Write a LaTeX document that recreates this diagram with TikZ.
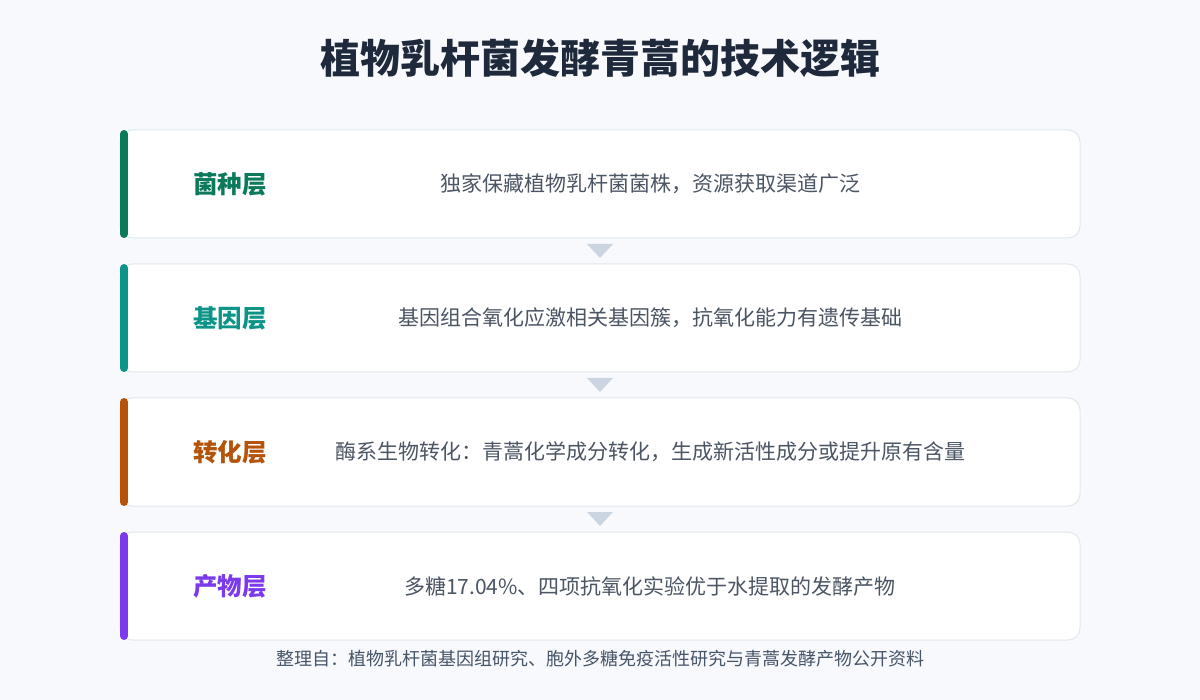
\documentclass[tikz,border=0pt]{standalone}
\usepackage{fontspec}
\setmainfont{Noto Sans CJK SC}
\usetikzlibrary{positioning}
\definecolor{bg}{HTML}{F7F9FC}
\definecolor{cardline}{HTML}{E2E8F0}
\definecolor{arrowc}{HTML}{CBD5E1}
\definecolor{titlec}{HTML}{1E293B}
\definecolor{descc}{HTML}{4B5563}
\definecolor{footc}{HTML}{475569}
\definecolor{cA}{HTML}{0B7A5A}
\definecolor{cB}{HTML}{0D9488}
\definecolor{cC}{HTML}{B45309}
\definecolor{cD}{HTML}{7C3AED}
\tikzset{
  card/.style={draw=cardline, line width=1pt, fill=white, rounded corners=12pt},
  accent/.style={line width=8pt, line cap=round},
  lbl/.style={font=\fontsize{24.5}{28}\selectfont\bfseries, anchor=center},
  desc/.style={font=\fontsize{21}{24}\selectfont, text=descc, anchor=center},
  tri/.style={fill=arrowc, draw=none},
}
\begin{document}
\begin{tikzpicture}[x=1pt,y=-1pt]
\useasboundingbox (0,0) rectangle (1200,700);
\fill[bg] (0,0) rectangle (1200,700);
\node[font=\fontsize{40}{46}\selectfont\bfseries, text=titlec] (title) at (600,58) {植物乳杆菌发酵青蒿的技术逻辑};
\foreach \i/\y/\c/\l/\d in {
  1/130/cA/菌种层/独家保藏植物乳杆菌菌株，资源获取渠道广泛,
  2/264/cB/基因层/基因组合氧化应激相关基因簇，抗氧化能力有遗传基础,
  3/398/cC/转化层/酶系生物转化：青蒿化学成分转化，生成新活性成分或提升原有含量,
  4/532/cD/产物层/多糖17.04\%、四项抗氧化实验优于水提取的发酵产物}{
  \draw[card] (120,\y) rectangle (1080,\y+108);
  \coordinate (top\i) at (124,\y+4);
  \coordinate (bot\i) at (124,\y+104);
  \draw[accent, \c] (top\i) -- (bot\i);
  \node[lbl, text=\c] (lab\i) at (230,\y+54) {\l};
  \node[desc] (desc\i) at (650,\y+54) {\d};
}
\foreach \y in {244,378,512}{
  \fill[tri] (587,\y) -- (613,\y) -- (600,\y+14) -- cycle;
}
\node[font=\fontsize{18}{21}\selectfont, text=footc] (foot) at (600,659) {整理自：植物乳杆菌基因组研究、胞外多糖免疫活性研究与青蒿发酵产物公开资料};
\end{tikzpicture}
\end{document}
